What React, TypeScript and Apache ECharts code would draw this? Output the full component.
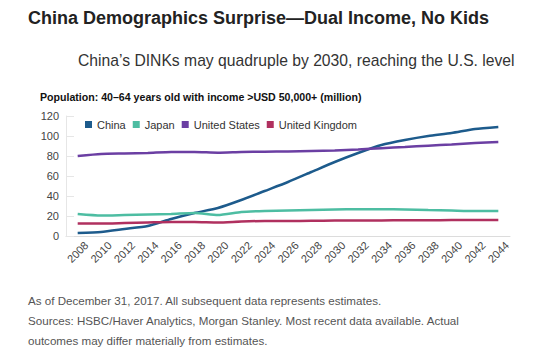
import React, { useEffect, useRef } from "react";
import * as echarts from "echarts";

const years = [2008, 2010, 2012, 2014, 2016, 2018, 2020, 2022, 2024, 2026, 2028, 2030, 2032, 2034, 2036, 2038, 2040, 2042, 2044];
const china = [3, 4, 7, 10, 17, 23, 28, 36, 45, 54, 64, 74, 83, 91, 96, 100, 103, 107, 109];
const japan = [22, 20.5, 21, 21.5, 22, 23, 21, 24, 25, 25.5, 26, 26.5, 26.7, 26.7, 26.5, 26, 25.5, 25, 25];
const usa = [80, 82, 82.5, 83, 84, 84, 83.3, 84, 84.3, 84.6, 85, 85.5, 86.5, 87.8, 89, 90.3, 91.6, 93, 94];
const uk = [12.5, 12.5, 13, 13.5, 14, 14, 13.5, 14.5, 15, 15, 15.2, 15.4, 15.5, 15.6, 15.7, 15.8, 15.9, 16, 16];
const seriesNames = ["China", "Japan", "United States", "United Kingdom"];
const colors = ["#1d5b8c", "#4dbda2", "#6b3fa3", "#b0305f"];

const FONT = "'Liberation Sans', Arial, Helvetica, sans-serif";

export default function App() {
  const ref = useRef<HTMLDivElement>(null);
  useEffect(() => {
    const chart = echarts.init(ref.current!, null, { renderer: "svg" });
    const all = [china, japan, usa, uk];
    chart.setOption({
      animation: false,
      textStyle: { fontFamily: FONT },
      grid: { left: 66, right: 49, top: 116, bottom: 114 },
      legend: {
        top: 114,
        left: 80,
        itemWidth: 7,
        itemHeight: 7,
        itemGap: 7,
        icon: "rect",
        textStyle: { fontSize: 11, color: "#333", fontFamily: FONT },
        data: seriesNames,
      },
      xAxis: {
        type: "value",
        min: 2007,
        max: 2045,
        interval: 1,
        axisLine: { show: true, lineStyle: { color: "#dcdcdc", width: 1 } },
        axisTick: { show: false },
        splitLine: { show: false },
        axisLabel: {
          rotate: 45,
          align: "center",
          verticalAlign: "middle",
          fontSize: 11,
          color: "#444",
          fontFamily: FONT,
          margin: 16,
          showMinLabel: true,
          showMaxLabel: true,
          formatter: (v: number) => (v % 2 === 0 ? String(v) : ""),
        },
      },
      yAxis: {
        type: "value",
        min: 0,
        max: 120,
        interval: 20,
        axisLine: { show: true, lineStyle: { color: "#e6e6e6", width: 1 } },
        axisTick: { show: true, inside: true, length: 8, lineStyle: { color: "#e6e6e6" } },
        splitLine: { show: false },
        axisLabel: { fontSize: 11, color: "#444", fontFamily: FONT, margin: 7 },
      },
      series: seriesNames.map((name, i) => ({
        name,
        type: "line",
        data: years.map((y, j) => [y, all[i][j]]),
        showSymbol: false,
        symbol: "none",
        smooth: 0.2,
        lineStyle: { color: colors[i], width: 2.5 },
        itemStyle: { color: colors[i] },
      })),
      graphic: [
        {
          type: "text",
          left: 28,
          top: 9,
          style: { text: "China Demographics Surprise\u2014Dual Income, No Kids", font: `bold 18px ${FONT}`, fill: "#222" },
        },
        {
          type: "text",
          left: 78,
          top: 52,
          style: { text: "China\u2019s DINKs may quadruple by 2030, reaching the U.S. level", font: `15.7px ${FONT}`, fill: "#333" },
        },
        {
          type: "text",
          left: 40,
          top: 91,
          style: { text: "Population: 40\u201364 years old with income >USD 50,000+ (million)", font: `bold 10.6px ${FONT}`, fill: "#111" },
        },
        {
          type: "text",
          left: 28,
          top: 294,
          style: { text: "As of December 31, 2017. All subsequent data represents estimates.", font: `11.6px ${FONT}`, fill: "#555" },
        },
        {
          type: "text",
          left: 28,
          top: 314,
          style: { text: "Sources: HSBC/Haver Analytics, Morgan Stanley. Most recent data available. Actual", font: `11.6px ${FONT}`, fill: "#555" },
        },
        {
          type: "text",
          left: 28,
          top: 334,
          style: { text: "outcomes may differ materially from estimates.", font: `11.6px ${FONT}`, fill: "#555" },
        },
      ],
    });
    return () => chart.dispose();
  }, []);
  return <div ref={ref} style={{ width: 559, height: 350, position: "fixed", left: 0, top: 0, background: "#fff" }} />;
}
